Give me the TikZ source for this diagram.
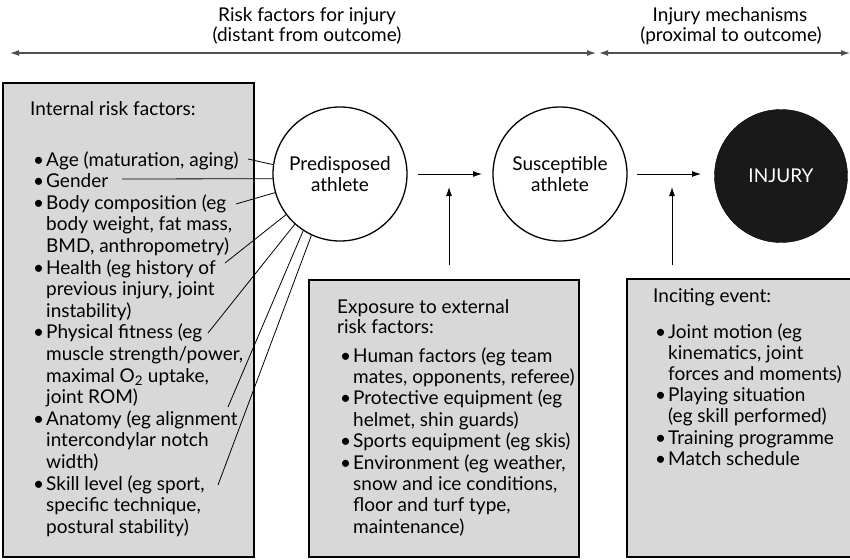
\documentclass[tikz,border=0pt]{standalone}
\usepackage{fontspec}
\setmainfont{Lato}
\usetikzlibrary{arrows.meta}
\definecolor{boxgray}{HTML}{D8D8D8}
\definecolor{toparrow}{HTML}{505050}
\newcommand{\bodyfont}{\fontsize{19}{21.6}\selectfont}
\newcommand{\itm}{\leavevmode\llap{\makebox[13pt][l]{\textbullet}}}
\tikzset{
  x=1pt, y=-1pt,
  panel/.style={draw=black, line width=1.6pt, fill=boxgray},
  athlete/.style={circle, draw=black, line width=1.3pt, minimum size=134pt, inner sep=0pt, font=\bodyfont, align=center},
  injurynode/.style={circle, fill=black!90, draw=black, minimum size=133pt, inner sep=0pt, text=white, font=\bodyfont},
  txt/.style={inner sep=0pt, anchor=base west, font=\bodyfont},
  link/.style={line width=0.8pt},
  flow/.style={line width=0.9pt, -{Latex[length=9pt,width=6pt]}},
  span/.style={line width=1.2pt, draw=toparrow, {Latex[length=9pt,width=6pt]}-{Latex[length=9pt,width=6pt]}},
  heading/.style={inner sep=0pt, anchor=base, font=\bodyfont, align=center}
}
\begin{document}
\begin{tikzpicture}
\useasboundingbox (0,0) rectangle (850,559);

% top headings and spans
\node[heading] (h1a) at (307,22) {Risk factors for injury};
\node[heading] (h1b) at (307,42) {(distant from outcome)};
\node[heading] (h2a) at (730,22) {Injury mechanisms};
\node[heading] (h2b) at (731,42) {(proximal to outcome)};
\coordinate (s1l) at (10,53);
\coordinate (s1r) at (596,53);
\coordinate (s2l) at (599,53);
\coordinate (s2r) at (850,53);
\draw[span] (s1l) -- (s1r);
\draw[span] (s2l) -- (s2r);

% panels
\draw[panel] (3,83) rectangle (254,557);
\draw[panel] (309,280) rectangle (579,557);
\draw[panel] (627,279) rectangle (851,557);

% circles
\node[athlete] (pre) at (340,174) {Predisposed\\athlete};
\node[athlete] (sus) at (560,174) {Susceptible\\athlete};
\node[injurynode] (inj) at (781,176) {INJURY};

% left panel text
\node[txt] (inttitle) at (30,116) {Internal risk factors:};
\node[txt] (intlist) at (33,166) {\parbox[t]{220pt}{\raggedright\leftskip=13pt
\itm Age (maturation, aging)\\
\itm Gender\\
\itm Body composition (eg\\
body weight, fat mass,\\
BMD, anthropometry)\\
\itm Health (eg history of\\
previous injury, joint\\
instability)\\
\itm Physical fitness (eg\\
muscle strength/power,\\
maximal O\textsubscript{2} uptake,\\
joint ROM)\\
\itm Anatomy (eg alignment\\
intercondylar notch\\
width)\\
\itm Skill level (eg sport,\\
specific technique,\\
postural stability)}};

% middle panel text
\node[txt] (exttitle) at (337,313) {\parbox[t]{230pt}{\fontsize{19}{20}\selectfont Exposure to external\\risk factors:}};
\node[txt] (extlist) at (341,362) {\parbox[t]{235pt}{\raggedright\fontsize{19}{21.4}\selectfont\leftskip=12pt
\itm Human factors (eg team\\
mates, opponents, referee)\\
\itm Protective equipment (eg\\
helmet, shin guards)\\
\itm Sports equipment (eg skis)\\
\itm Environment (eg weather,\\
snow and ice conditions,\\
floor and turf type,\\
maintenance)}};

% right panel text
\node[txt] (inctitle) at (653,302) {Inciting event:};
\node[txt] (inclist) at (655,338) {\parbox[t]{190pt}{\raggedright\fontsize{19}{21.2}\selectfont\leftskip=13pt
\itm Joint motion (eg\\
kinematics, joint\\
forces and moments)\\
\itm Playing situation\\
(eg skill performed)\\
\itm Training programme\\
\itm Match schedule}};

% connectors from internal factors to predisposed athlete
\coordinate (cAge) at (248,159);
\coordinate (cGen) at (122,179);
\coordinate (cBody) at (236,204);
\coordinate (cHea) at (225,263);
\coordinate (cPhy) at (208,333);
\coordinate (cAna) at (228,407);
\coordinate (cSki) at (218,485);
\draw[link] (cAge) -- (pre.180-8);
\draw[link] (cGen) -- (pre.180+4);
\draw[link] (cBody) -- (pre.180+16);
\draw[link] (cHea) -- (pre.180+37);
\draw[link] (cPhy) -- (pre.180+48);
\draw[link] (cAna) -- (pre.180+57);
\draw[link] (cSki) -- (pre.180+65);

% flow arrows
\coordinate (a1s) at (418,174);
\coordinate (a1e) at (482,174);
\coordinate (a2s) at (637,174);
\coordinate (a2e) at (701,174);
\draw[flow] (a1s) -- (a1e);
\draw[flow] (a2s) -- (a2e);
\coordinate (v1s) at (449,265);
\coordinate (v1e) at (449,187);
\coordinate (v2s) at (672,265);
\coordinate (v2e) at (672,187);
\draw[flow] (v1s) -- (v1e);
\draw[flow] (v2s) -- (v2e);
\end{tikzpicture}
\end{document}
